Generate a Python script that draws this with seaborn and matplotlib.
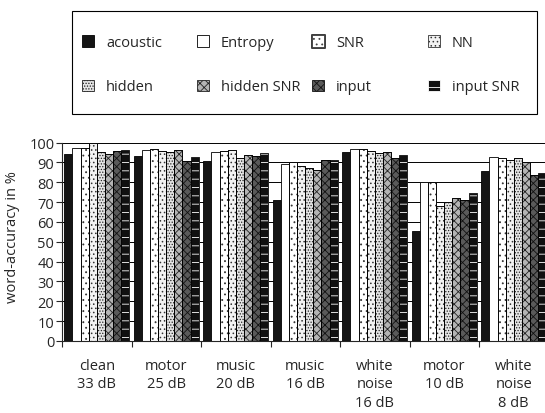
import matplotlib
matplotlib.use("Agg")
import matplotlib.pyplot as plt
from matplotlib.patches import Rectangle
import seaborn as sns
import pandas as pd

conditions = ["clean\n33 dB", "motor\n25 dB", "music\n20 dB", "music\n16 dB",
              "white\nnoise\n16 dB", "motor\n10 dB", "white\nnoise\n8 dB"]
methods = ["acoustic", "Entropy", "SNR", "NN", "hidden", "hidden SNR", "input", "input SNR"]

acoustic = [94, 93, 90.5, 71, 95.3, 55.5, 85.8]
entropy = [97, 96, 95.3, 89, 96.7, 80.3, 92.5]
snr = [97, 96.5, 95.8, 90, 96.7, 80, 92]
nn = [99.6, 95.5, 96.3, 88, 95.8, 68, 91.3]
hidden = [95, 95, 92, 87, 94.7, 70, 92.3]
hidden_snr = [94.3, 96, 93.7, 86, 95, 72, 90.3]
input_ = [95.6, 90.5, 93.3, 91.4, 92, 71, 83.6]
input_snr = [96.2, 92.5, 94.7, 91, 93.7, 74.4, 84.6]

series = [acoustic, entropy, snr, nn, hidden, hidden_snr, input_, input_snr]
rows = []
for m, vals in zip(methods, series):
    for c, v in zip(conditions, vals):
        rows.append({"condition": c, "method": m, "value": v})
df = pd.DataFrame(rows)

sns.set_style("ticks")
plt.rcParams["font.family"] = ["Open Sans", "DejaVu Sans"]
plt.rcParams["hatch.linewidth"] = 0.6

# (facecolor, hatch, hatch/edge colour)
styles = [
    ("#151515", None, "black"),
    ("white", None, "black"),
    ("white", "...", "#333333"),
    ("#f2f2f2", "....", "#333333"),
    ("#e4e4e4", "......", "#222222"),
    ("#b4b4b4", "xxxx", "#222222"),
    ("#5a5a5a", "xxxx", "#111111"),
    ("#101010", "--", "white"),
]

fig = plt.figure(figsize=(5.45, 4.14), dpi=100)
ax = fig.add_axes([62 / 545, (414 - 342) / 414, 486.5 / 545, 198.5 / 414])

sns.barplot(data=df, x="condition", y="value", hue="method",
            order=conditions, hue_order=methods, width=0.935,
            legend=False, ax=ax, edgecolor="black", linewidth=0.6,
            saturation=1)

for cont, (fc, h, hc) in zip(ax.containers, styles):
    for p in cont.patches:
        p.set_facecolor(fc)
        p.set_edgecolor(hc)
        if h:
            p.set_hatch(h)
        if hc != "black":
            ax.add_patch(Rectangle(p.get_xy(), p.get_width(), p.get_height(),
                                   fill=False, ec="black", lw=0.6, zorder=p.get_zorder() + 0.1))

ax.set_xlim(-0.5, len(conditions) - 0.5)
ax.set_ylim(0, 100)
ax.set_yticks(range(0, 101, 10))
ax.yaxis.grid(True, color="black", linewidth=0.7)
ax.set_axisbelow(True)
for s in ["top", "right"]:
    ax.spines[s].set_visible(False)
ax.spines["left"].set_linewidth(0.8)
ax.spines["bottom"].set_linewidth(0.8)

ax.set_xticks(range(len(conditions)))
ax.set_xticklabels(conditions, fontsize=10.5, linespacing=1.33, va="top")
ax.tick_params(axis="x", which="major", length=0, pad=12)
ax.set_xticks([i - 0.5 for i in range(len(conditions) + 1)], minor=True)
ax.tick_params(axis="x", which="minor", length=4, width=0.8, direction="out")
ax.tick_params(axis="y", length=4, width=0.8, direction="out", pad=1.5, labelsize=10.5)
ax.set_xlabel("")
ax.set_ylabel("word-accuracy in %", fontsize=10.5)
ax.yaxis.set_label_coords((20 - 62) / 486.5, 0.53)

# legend: four columns, two rows, in a frame
col_x = [82, 197, 312, 428]
snr_handle = None
for i in range(4):
    hs = [ax.containers[i], ax.containers[i + 4]]
    ls = [methods[i], methods[i + 4]]
    leg = fig.legend(hs, ls, loc="upper left",
                     bbox_to_anchor=(col_x[i] / 545, 1 - 36 / 414),
                     frameon=False, borderpad=0, borderaxespad=0,
                     handlelength=0.8, handleheight=0.8, handletextpad=0.85,
                     labelspacing=2.0, fontsize=10.5)
    if i == 2:
        snr_handle = leg.legend_handles[0]
        snr_handle.set_edgecolor("#444444")

fig.canvas.draw()
bb = snr_handle.get_window_extent()
fig.add_artist(Rectangle((bb.x0 / fig.bbox.width, bb.y0 / fig.bbox.height),
                         bb.width / fig.bbox.width, bb.height / fig.bbox.height,
                         transform=fig.transFigure, fill=False, ec="black", lw=1.8))
fig.add_artist(Rectangle((72 / 545, 1 - 115 / 414), 465 / 545, 103 / 414,
                         transform=fig.transFigure, fill=False, ec="black", lw=0.8))

fig.savefig("out.png", dpi=100)
